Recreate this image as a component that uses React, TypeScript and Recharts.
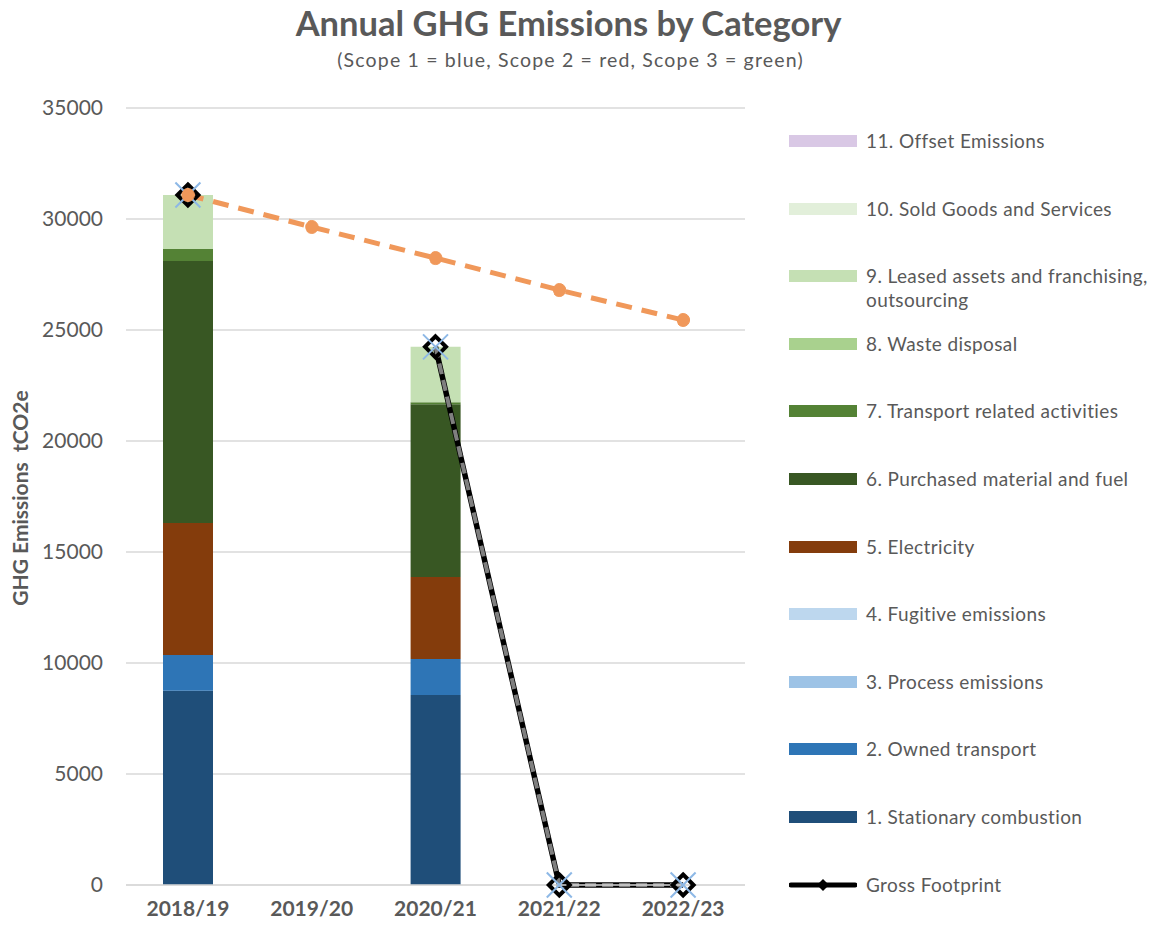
import React from "react";
import {
  ComposedChart, Bar, Line, XAxis, YAxis, CartesianGrid,
} from "recharts";

const years = ["2018/19", "2019/20", "2020/21", "2021/22", "2022/23"];

// stacked categories, bottom to top
const stationary     = [8750, 0, 8560, 0, 0];
const ownedTransport = [1610, 0, 1620, 0, 0];
const processEm      = [0, 0, 0, 0, 0];
const fugitive       = [0, 0, 0, 0, 0];
const electricity    = [5950, 0, 3690, 0, 0];
const purchased      = [11800, 0, 7790, 0, 0];
const transportRel   = [540, 0, 90, 0, 0];
const waste          = [0, 0, 0, 0, 0];
const leased         = [2430, 0, 2490, 0, 0];
const soldGoods      = [0, 0, 0, 0, 0];
const offset         = [0, 0, 0, 0, 0];

const gross  = [31080, null, 24240, 0, 0];
const target = [31080, 29640, 28240, 26800, 25450];

const yTicks = [0, 5000, 10000, 15000, 20000, 25000, 30000, 35000];

const categories = [
  { key: "stationary",     name: "1. Stationary combustion",  color: "#1f4e79", values: stationary },
  { key: "ownedTransport", name: "2. Owned transport",        color: "#2e75b6", values: ownedTransport },
  { key: "processEm",      name: "3. Process emissions",      color: "#9dc3e6", values: processEm },
  { key: "fugitive",       name: "4. Fugitive emissions",     color: "#bdd7ee", values: fugitive },
  { key: "electricity",    name: "5. Electricity",            color: "#843c0c", values: electricity },
  { key: "purchased",      name: "6. Purchased material and fuel", color: "#385723", values: purchased },
  { key: "transportRel",   name: "7. Transport related activities", color: "#548235", values: transportRel },
  { key: "waste",          name: "8. Waste disposal",         color: "#a9d18e", values: waste },
  { key: "leased",         name: "9. Leased assets and franchising, outsourcing", color: "#c5e0b4", values: leased },
  { key: "soldGoods",      name: "10. Sold Goods and Services", color: "#e2efda", values: soldGoods },
  { key: "offset",         name: "11. Offset Emissions",      color: "#d9c8e5", values: offset },
];

const data = years.map((year, i) => {
  const row: Record<string, number | string | null> = { year, gross: gross[i], target: target[i] };
  categories.forEach(c => { row[c.key] = c.values[i]; });
  return row;
});

const FONT = "Lato, 'Noto Sans', sans-serif";
const TEXT = "#595959";

// eslint-disable-next-line @typescript-eslint/no-explicit-any
const Diamond = (props: any) => {
  const { cx, cy, index } = props;
  if (cx == null || cy == null || props.value == null) return <g key={index} />;
  const r = 10.5;
  return (
    <path
      key={index}
      d={`M${cx},${cy - r} L${cx + r},${cy} L${cx},${cy + r} L${cx - r},${cy} Z`}
      fill="none" stroke="#000" strokeWidth={4}
    />
  );
};

// eslint-disable-next-line @typescript-eslint/no-explicit-any
const Cross = (props: any) => {
  const { cx, cy, index } = props;
  if (cx == null || cy == null || props.value == null) return <g key={index} />;
  const r = 12.5;
  return (
    <g key={index} stroke="#8db8e6" strokeWidth={2}>
      <line x1={cx - r} y1={cy - r} x2={cx + r} y2={cy + r} />
      <line x1={cx - r} y1={cy + r} x2={cx + r} y2={cy - r} />
    </g>
  );
};

const LegendBox = () => (
  <div style={{ position: "absolute", left: 789, top: 129, width: 365, fontFamily: FONT, fontSize: 19, letterSpacing: "0.02em", color: TEXT }}>
    {[...categories].reverse().map(c => (
      <div key={c.key} style={{ display: "flex", alignItems: "flex-start", height: 67.6 }}>
        <div style={{ width: 68, height: 12, marginTop: 6, background: c.color, flexShrink: 0 }} />
        <div style={{ marginLeft: 9, lineHeight: "24px", width: 288 }}>{c.name}</div>
      </div>
    ))}
    <div style={{ display: "flex", alignItems: "flex-start", height: 30 }}>
      <svg width={68} height={24} style={{ flexShrink: 0 }}>
        <line x1={2} y1={12} x2={66} y2={12} stroke="#000" strokeWidth={5} strokeLinecap="round" />
        <path d="M34,6 L40,12 L34,18 L28,12 Z" fill="#000" />
      </svg>
      <div style={{ marginLeft: 9, lineHeight: "24px" }}>Gross Footprint</div>
    </div>
  </div>
);

export default function App() {
  return (
    <div style={{ position: "absolute", left: 0, top: 0, width: 1154, height: 928, background: "#fff", fontFamily: FONT }}>
      <div style={{ position: "absolute", top: 2, left: 0, width: 1137, textAlign: "center", fontSize: 34.5, fontWeight: 700, color: TEXT }}>
        Annual GHG Emissions by Category
      </div>
      <div style={{ position: "absolute", top: 48, left: 0, width: 1141, textAlign: "center", fontSize: 19.5, color: TEXT, letterSpacing: "0.06em" }}>
        (Scope 1 = blue, Scope 2 = red, Scope 3 = green)
      </div>
      <div style={{
        position: "absolute", left: 19, top: 498, transform: "translate(-50%, -50%) rotate(-90deg)",
        whiteSpace: "nowrap", fontSize: 21, fontWeight: 700, color: TEXT,
      }}>
        GHG Emissions&nbsp;&nbsp;tCO2e
      </div>
      <ComposedChart
        width={1154} height={928} data={data}
        margin={{ top: 108, right: 409, bottom: 13, left: 46 }}
        style={{ position: "absolute", left: 0, top: 0 }}
      >
        <CartesianGrid vertical={false} stroke="#d9d9d9" strokeWidth={1.5} />
        <XAxis
          dataKey="year" height={30} interval={0} tickLine={false} axisLine={{ stroke: "#d9d9d9", strokeWidth: 1.5 }}
          tick={{ fontSize: 21, fontWeight: 700, fill: TEXT, fontFamily: FONT }} tickMargin={10}
        />
        <YAxis
          width={80} domain={[0, 35000]} ticks={yTicks} axisLine={false} tickLine={false}
          tick={{ fontSize: 21, fill: TEXT, fontFamily: FONT }} tickMargin={17}
        />
        {categories.map(c => (
          <Bar key={c.key} dataKey={c.key} name={c.name} stackId="s" fill={c.color} barSize={50} isAnimationActive={false} />
        ))}
        <Line dataKey="gross" stroke="#000" strokeWidth={5.5} dot={<Diamond />} activeDot={false} isAnimationActive={false} connectNulls={false} />
        <Line dataKey="gross" stroke="#7f7f7f" strokeWidth={4} strokeDasharray="11 6" dot={<Cross />} activeDot={false} isAnimationActive={false} connectNulls={false} />
        <Line
          dataKey="target" stroke="#f0985a" strokeWidth={5} strokeDasharray="16 10"
          dot={{ r: 6.5, fill: "#f0985a", stroke: "#f0985a", strokeWidth: 1 }} activeDot={false} isAnimationActive={false}
        />
      </ComposedChart>
      <LegendBox />
    </div>
  );
}
